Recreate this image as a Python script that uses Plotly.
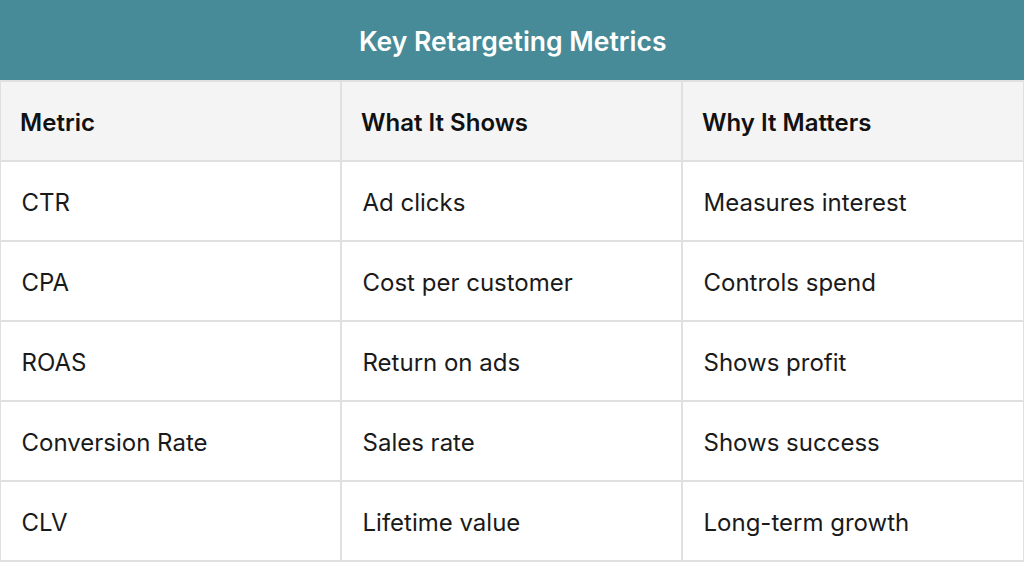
import plotly.graph_objects as go

title = "Key Retargeting Metrics"
headers = ["Metric", "What It Shows", "Why It Matters"]
metrics = ["CTR", "CPA", "ROAS", "Conversion Rate", "CLV"]
shows = ["Ad clicks", "Cost per customer", "Return on ads", "Sales rate", "Lifetime value"]
matters = ["Measures interest", "Controls spend", "Shows profit", "Shows success", "Long-term growth"]

pad = "<span style='font-size:11px'> </span><br>&nbsp;&nbsp;"
W, H = 1024, 562
top = 81
fig = go.Figure(go.Table(
    domain=dict(x=[0, 1], y=[0, 1 - top / H]),
    columnwidth=[341, 341, 342],
    header=dict(values=[pad + h for h in headers], height=80, align="left",
                fill_color="#f4f4f4", line=dict(color="#e0e0e0", width=2),
                font=dict(family="Inter", size=24, color="#111111", weight=600)),
    cells=dict(values=[[pad + v for v in col] for col in (metrics, shows, matters)],
               height=80, align="left",
               fill_color="#ffffff", line=dict(color="#e0e0e0", width=2),
               font=dict(family="Inter", size=24, color="#1a1a1a")),
))
fig.add_shape(type="rect", xref="paper", yref="paper", x0=0, x1=1, y0=1 - top / H, y1=1,
              fillcolor="#468b97", line_width=0, layer="below")
fig.add_annotation(text=title, xref="paper", yref="paper", x=0.5, y=1 - 41 / H,
                   yanchor="middle", showarrow=False,
                   font=dict(family="Inter", size=26.5, color="white", weight=600))
fig.update_layout(width=W, height=H, margin=dict(l=0, r=0, t=0, b=0), paper_bgcolor="white")
fig.write_html("out.html", post_script="document.body.style.margin='0';",
               config={"displayModeBar": False})
